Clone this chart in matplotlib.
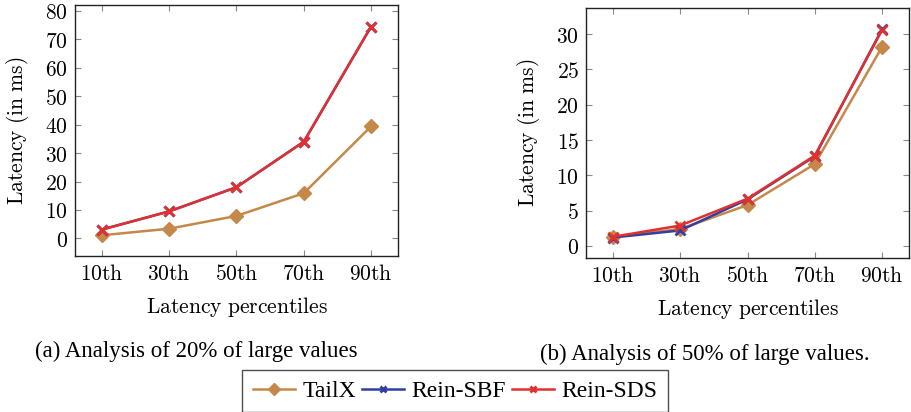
import matplotlib
matplotlib.use("Agg")
import matplotlib.pyplot as plt
from matplotlib.lines import Line2D
from matplotlib.font_manager import FontProperties

plt.rcParams['mathtext.fontset'] = 'cm'
plt.rcParams['font.family'] = ['DejaVu Serif']

categories = ['10th', '30th', '50th', '70th', '90th']

tailx_a = [1.1, 3.4, 7.9, 15.9, 39.4]
sbf_a = [3.1, 9.5, 18.0, 34.0, 74.5]
sds_a = [3.1, 9.5, 18.0, 34.0, 74.5]

tailx_b = [1.3, 2.4, 5.8, 11.6, 28.2]
sbf_b = [1.2, 2.2, 6.6, 12.7, 30.7]
sds_b = [1.3, 2.9, 6.7, 12.8, 30.6]

yticks_a = [0, 10, 20, 30, 40, 50, 60, 70, 80]
yticks_b = [0, 5, 10, 15, 20, 25, 30]

captions = ['(a) Analysis of 20% of large values', '(b) Analysis of 50% of large values.']
series_names = ['TailX', 'Rein-SBF', 'Rein-SDS']

C_TAIL = '#c5884a'
C_SBF = '#3040a0'
C_SDS = '#e03030'

def m(s):
    return r'$\mathrm{' + s.replace(' ', r'\ ').replace('%', r'\%') + '}$'

fig = plt.figure(figsize=(9.11, 4.12), dpi=100)
ax1 = fig.add_axes([75/911, 1-256/412, 323/911, 251/412])
ax2 = fig.add_axes([586/911, 1-258/412, 323/911, 250/412])

FS = 15.5

def style(ax, tail, sbf, sds, yticks, ylim):
    x = list(range(len(categories)))
    ax.plot(x, tail, color=C_TAIL, lw=1.8, marker='D', ms=7, mfc=C_TAIL, mec=C_TAIL, zorder=3)
    ax.plot(x, sbf, color=C_SBF, lw=1.8, marker='x', ms=7, mew=2, zorder=4)
    ax.plot(x, sds, color=C_SDS, lw=1.8, marker='x', ms=7, mew=2, zorder=5)
    ax.set_xlim(-0.4, 4.4)
    ax.set_ylim(*ylim)
    ax.set_xticks(x)
    ax.set_xticklabels([m(c) for c in categories], fontsize=FS)
    ax.set_yticks(yticks)
    ax.set_yticklabels([m(str(t)) for t in yticks], fontsize=FS)
    ax.tick_params(direction='in', top=True, right=True, length=4, width=0.8, color='#888888', pad=5)
    for s in ax.spines.values():
        s.set_linewidth(1.0)
        s.set_color('#222222')
    ax.set_xlabel(m('Latency percentiles'), fontsize=FS, labelpad=7)
    ax.set_ylabel(m('Latency (in ms)'), fontsize=FS, labelpad=10)

style(ax1, tailx_a, sbf_a, sds_a, yticks_a, (-6.2, 82.1))
style(ax2, tailx_b, sbf_b, sds_b, yticks_b, (-1.7, 33.7))

cap_fp = FontProperties(family='Liberation Serif', size=16.5)
fig.text(35/911, 1-351/412, captions[0], fontproperties=cap_fp, va='center', ha='left')
fig.text(540/911, 1-354/412, captions[1], fontproperties=cap_fp, va='center', ha='left')

handles = [
    Line2D([], [], color=C_TAIL, lw=1.8, marker='D', ms=6),
    Line2D([], [], color=C_SBF, lw=1.8, marker='x', ms=5, mew=2),
    Line2D([], [], color=C_SDS, lw=1.8, marker='x', ms=5, mew=2),
]
leg_fp = FontProperties(family='Liberation Serif', size=17)
leg = fig.legend(handles, series_names, loc='center', bbox_to_anchor=(455/911, 1-391/412), ncol=3,
                 prop=leg_fp, frameon=True, fancybox=False,
                 edgecolor='#222222', handlelength=1.8, handletextpad=0.3, columnspacing=0.25,
                 borderpad=0.45, borderaxespad=0)
leg.get_frame().set_linewidth(1.0)

fig.savefig('out.png', dpi=100)
